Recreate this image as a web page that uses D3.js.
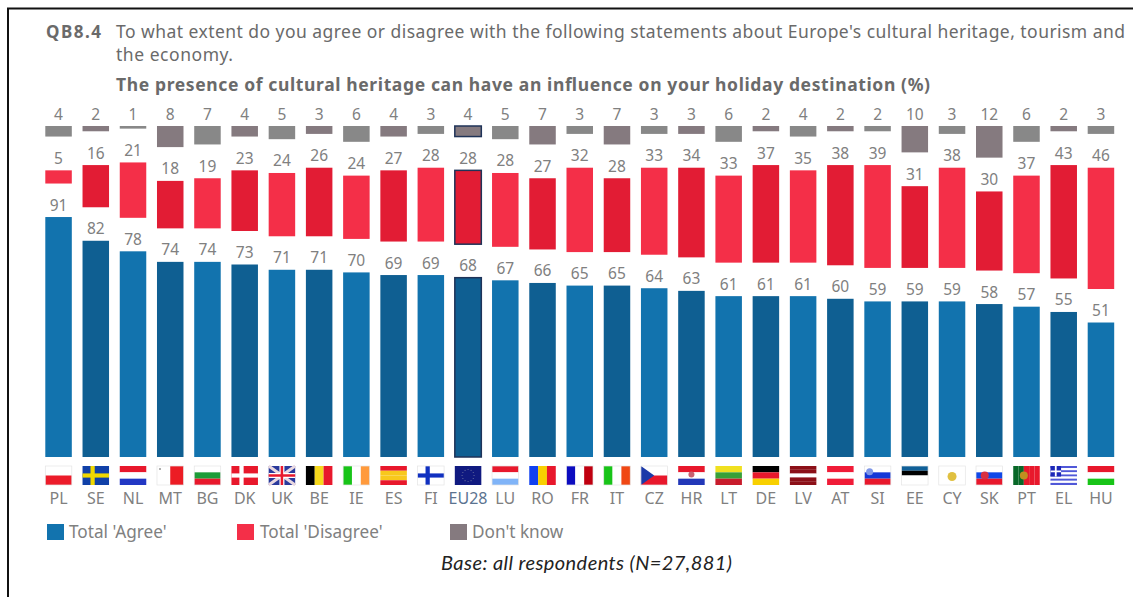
<!DOCTYPE html>
<html>
<head>
<meta charset="utf-8">
<script src="https://cdn.jsdelivr.net/npm/d3@7/dist/d3.min.js"></script>
<style>
  html, body { margin: 0; background: #fff; }
  svg { display: block; }
  text { font-family: "Noto Sans", "Open Sans", sans-serif; }
</style>
</head>
<body>
<svg id="chart" width="1133" height="597"></svg>
<script>
// Survey results per member state (%)
const countries = ["PL","SE","NL","MT","BG","DK","UK","BE","IE","ES","FI","EU28","LU","RO","FR","IT","CZ","HR","LT","DE","LV","AT","SI","EE","CY","SK","PT","EL","HU"];
const agree     = [91,82,78,74,74,73,71,71,70,69,69,68,67,66,65,65,64,63,61,61,61,60,59,59,59,58,57,55,51];
const disagree  = [5,16,21,18,19,23,24,26,24,27,28,28,28,27,32,28,33,34,33,37,35,38,39,31,38,30,37,43,46];
const dontKnow  = [4,2,1,8,7,4,5,3,6,4,3,4,5,7,3,7,3,3,6,2,4,2,2,10,3,12,6,2,3];

const questionCode = "QB8.4";
const questionLines = [
  "To what extent do you agree or disagree with the following statements about Europe's cultural heritage, tourism and",
  "the economy."
];
const statement = "The presence of cultural heritage can have an influence on your holiday destination  (%)";
const baseNote = "Base: all respondents (N=27,881)";
const legendLabels = ["Total 'Agree'", "Total 'Disagree'", "Don't know"];

// Flags described as equal stripes; repeated colours make a stripe wider
const R = "#e8182c", W = "#ffffff", B = "#2238c4";
const flagStripes = {
  PL:["h",[W,"#ec1c2a"]], SE:["h",["#1040a8"]], NL:["h",[R,W,B]], MT:["v",[W,"#ec1c24"]],
  BG:["h",[W,"#1c9c38",R]], DK:["h",[R]], UK:["h",["#2a3a9c"]], BE:["v",["#000","#f6d81c",R]],
  IE:["v",["#18c418",W,"#ff9a3c"]], ES:["h",[R,"#f8c81c","#f8c81c",R]], FI:["h",[W]],
  EU28:["h",["#101a80"]], LU:["h",[R,W,"#80b4f8"]], RO:["v",["#1040f0","#f8d000",R]],
  FR:["v",["#0c0cc0",W,"#c00010"]], IT:["v",["#18c418",W,"#f04814"]], CZ:["h",[W,R]],
  HR:["h",[R,W,"#2238b8"]], LT:["h",["#f0e020","#38a038","#c81c2c"]], DE:["h",["#000",R,"#f8d000"]],
  LV:["h",["#8c1018","#8c1018",W,"#8c1018","#8c1018"]], AT:["h",["#f01c38",W,"#f01c38"]],
  SI:["h",[W,"#1438d8",R]], EE:["h",["#106098","#000",W,W]], CY:["h",[W]], SK:["h",[W,"#1048e8",R]],
  PT:["v",["#086828","#086828",R,R,R]],
  EL:["h",["#5058d8",W,"#5058d8",W,"#5058d8",W,"#5058d8",W,"#5058d8"]],
  HU:["h",[R,W,"#18c418"]]
};
const flagCrosses = { SE:"#f0d800", DK:W, FI:"#1030c0" };
const flagSeals = { HR:"#c86070", SI:"#8098e8", SK:"#d83040", PT:"#c09020", CY:"#e0c040" };

const bluePair = ["#1273ae", "#0f5f92"];
const redPair  = ["#f42f48", "#e21c34"];
const greyPair = ["#888888", "#857a7f"];
const labelGrey = "#808080";
const outline = "#1f3358";

const svg = d3.select("#chart");

const x = d3.scaleBand().domain(countries).range([45.3, 1114.2]).paddingInner(0.288).paddingOuter(0);
const bw = x.bandwidth();
const y = d3.scaleLinear().domain([0, 100]).range([457, 193.3]);
const len = d => y(0) - y(d);

const gapAboveAgree = 33.5;   // room for the agree label between the two lower bars
const dkTop = 126;
const rows = countries.map((c, i) => ({ c, i, a: agree[i], d: disagree[i], k: dontKnow[i] }));

// Frame on the top and left of the page
svg.append("path").attr("d", "M8,597V8.5H1133").attr("fill", "none").attr("stroke", "#111").attr("stroke-width", 2);

// Heading
const head = svg.append("g").attr("fill", "#6a6a6a");
head.append("text").attr("x", 46).attr("y", 38).attr("font-size", 17).attr("font-weight", 700)
  .attr("textLength", 55).text(questionCode);
head.selectAll("text.q").data(questionLines).join("text").attr("class", "q")
  .attr("x", 116).attr("y", (d, i) => 38 + i * 23).attr("font-size", 17.5)
  .attr("textLength", (d, i) => [1009, 117][i]).text(d => d);
head.append("text").attr("x", 116).attr("y", 91).attr("font-size", 17.5).attr("font-weight", 700)
  .attr("textLength", 814).text(statement);

const col = svg.selectAll("g.col").data(rows).join("g").attr("class", "col")
  .attr("transform", d => `translate(${x(d.c)},0)`);

const edge = d => d.c === "EU28" ? outline : "none";

// Agree bars
col.append("rect").attr("width", bw).attr("y", d => y(d.a)).attr("height", d => len(d.a))
  .attr("fill", d => bluePair[d.i % 2]).attr("stroke", edge).attr("stroke-width", 1.5);
// Disagree bars sit above the agree bar
const redBottom = d => y(d.a) - gapAboveAgree;
col.append("rect").attr("width", bw).attr("y", d => redBottom(d) - len(d.d)).attr("height", d => len(d.d))
  .attr("fill", d => redPair[d.i % 2]).attr("stroke", edge).attr("stroke-width", 1.5);
// Don't know bars hang from a common top line
col.append("rect").attr("width", bw).attr("y", dkTop).attr("height", d => len(d.k))
  .attr("fill", d => greyPair[d.i % 2]).attr("stroke", edge).attr("stroke-width", 1.5);

// Value labels
const valueLabel = (acc, top) => col.append("text").attr("x", bw / 2).attr("y", d => top(d) - 6.5)
  .attr("text-anchor", "middle").attr("font-size", 15.5).attr("fill", labelGrey).text(acc);
valueLabel(d => d.a, d => y(d.a));
valueLabel(d => d.d, d => redBottom(d) - len(d.d));
valueLabel(d => d.k, () => dkTop);

// Flags
const flagTop = 466, flagH = 19;
const flags = col.append("g").attr("transform", `translate(0,${flagTop})`);
flags.each(function (d) {
  const g = d3.select(this);
  const [dir, stripes] = flagStripes[d.c];
  const n = stripes.length;
  stripes.forEach((fill, k) => {
    g.append("rect").attr("fill", fill)
      .attr("x", dir === "v" ? k * bw / n : 0).attr("y", dir === "h" ? k * flagH / n : 0)
      .attr("width", dir === "v" ? bw / n : bw).attr("height", dir === "h" ? flagH / n : flagH);
  });
  if (flagCrosses[d.c]) {
    g.append("rect").attr("x", bw * 0.3).attr("width", bw * 0.16).attr("height", flagH).attr("fill", flagCrosses[d.c]);
    g.append("rect").attr("y", flagH * 0.39).attr("width", bw).attr("height", flagH * 0.22).attr("fill", flagCrosses[d.c]);
  }
  if (d.c === "UK") {
    g.append("path").attr("d", `M0,0L${bw},${flagH}M${bw},0L0,${flagH}`).attr("stroke", "#e8d8e0").attr("stroke-width", 3);
    g.append("path").attr("d", `M${bw / 2},0V${flagH}M0,${flagH / 2}H${bw}`).attr("stroke", W).attr("stroke-width", 5);
    g.append("path").attr("d", `M${bw / 2},0V${flagH}M0,${flagH / 2}H${bw}`).attr("stroke", R).attr("stroke-width", 2.5);
  }
  if (d.c === "CZ") {
    g.append("path").attr("d", `M0,0L${bw * 0.5},${flagH / 2}L0,${flagH}Z`).attr("fill", "#1c3aa8");
  }
  if (d.c === "EL") {
    g.append("rect").attr("width", bw * 0.4).attr("height", flagH * 5 / 9).attr("fill", "#1c28b8");
    g.append("path").attr("d", `M${bw * 0.2},0V${flagH * 5 / 9}M0,${flagH * 5 / 18}H${bw * 0.4}`).attr("stroke", W).attr("stroke-width", 1.8);
  }
  if (d.c === "EU28") {
    g.selectAll("circle").data(d3.range(12)).join("circle")
      .attr("cx", k => bw / 2 + 6 * Math.cos(k * Math.PI / 6)).attr("cy", k => flagH / 2 + 6 * Math.sin(k * Math.PI / 6))
      .attr("r", 0.6).attr("fill", "#6a70a0");
  }
  if (d.c === "MT") g.append("rect").attr("x", 2).attr("y", 2).attr("width", 2).attr("height", 2).attr("fill", "#b0b0b0");
  if (flagSeals[d.c]) {
    const cfg = { HR: [0.5, 0.45, 3], SI: [0.2, 0.3, 3.5], SK: [0.33, 0.5, 4], PT: [0.4, 0.5, 4], CY: [0.5, 0.55, 4.5] }[d.c];
    g.append("circle").attr("cx", bw * cfg[0]).attr("cy", flagH * cfg[1]).attr("r", cfg[2]).attr("fill", flagSeals[d.c]);
  }
  if (["PL", "MT", "BG", "FI", "CY", "EE", "SK", "LU", "CZ", "IE", "FR", "IT", "SI"].includes(d.c)) {
    g.append("rect").attr("width", bw).attr("height", flagH).attr("fill", "none").attr("stroke", "#e4e4e4").attr("stroke-width", 0.7);
  }
});

// Country labels
const axis = svg.append("g").attr("transform", "translate(0,493)")
  .call(d3.axisBottom(x).tickSize(0).tickPadding(0));
axis.select(".domain").remove();
axis.selectAll("text").attr("font-size", 16).attr("font-family", null)
  .attr("fill", d => d === "EU28" ? "#5b7390" : labelGrey);

// Legend
const legendX = [47, 237, 450];
const legendFill = [bluePair[0], redPair[0], greyPair[1]];
const legend = svg.selectAll("g.key").data(legendLabels).join("g").attr("class", "key")
  .attr("transform", (d, i) => `translate(${legendX[i]},524)`);
legend.append("rect").attr("width", 17).attr("height", 16).attr("fill", (d, i) => legendFill[i]);
legend.append("text").attr("x", (d, i) => i === 1 ? 23 : 22).attr("y", 14).attr("font-size", 17.2).attr("fill", labelGrey).text(d => d);

// Base note
svg.append("text").attr("x", 441).attr("y", 570).attr("font-size", 20).attr("font-style", "italic")
  .attr("fill", "#222").style("font-family", "Lato, 'Noto Sans', sans-serif")
  .attr("textLength", 291).text(baseNote);
</script>
</body>
</html>
